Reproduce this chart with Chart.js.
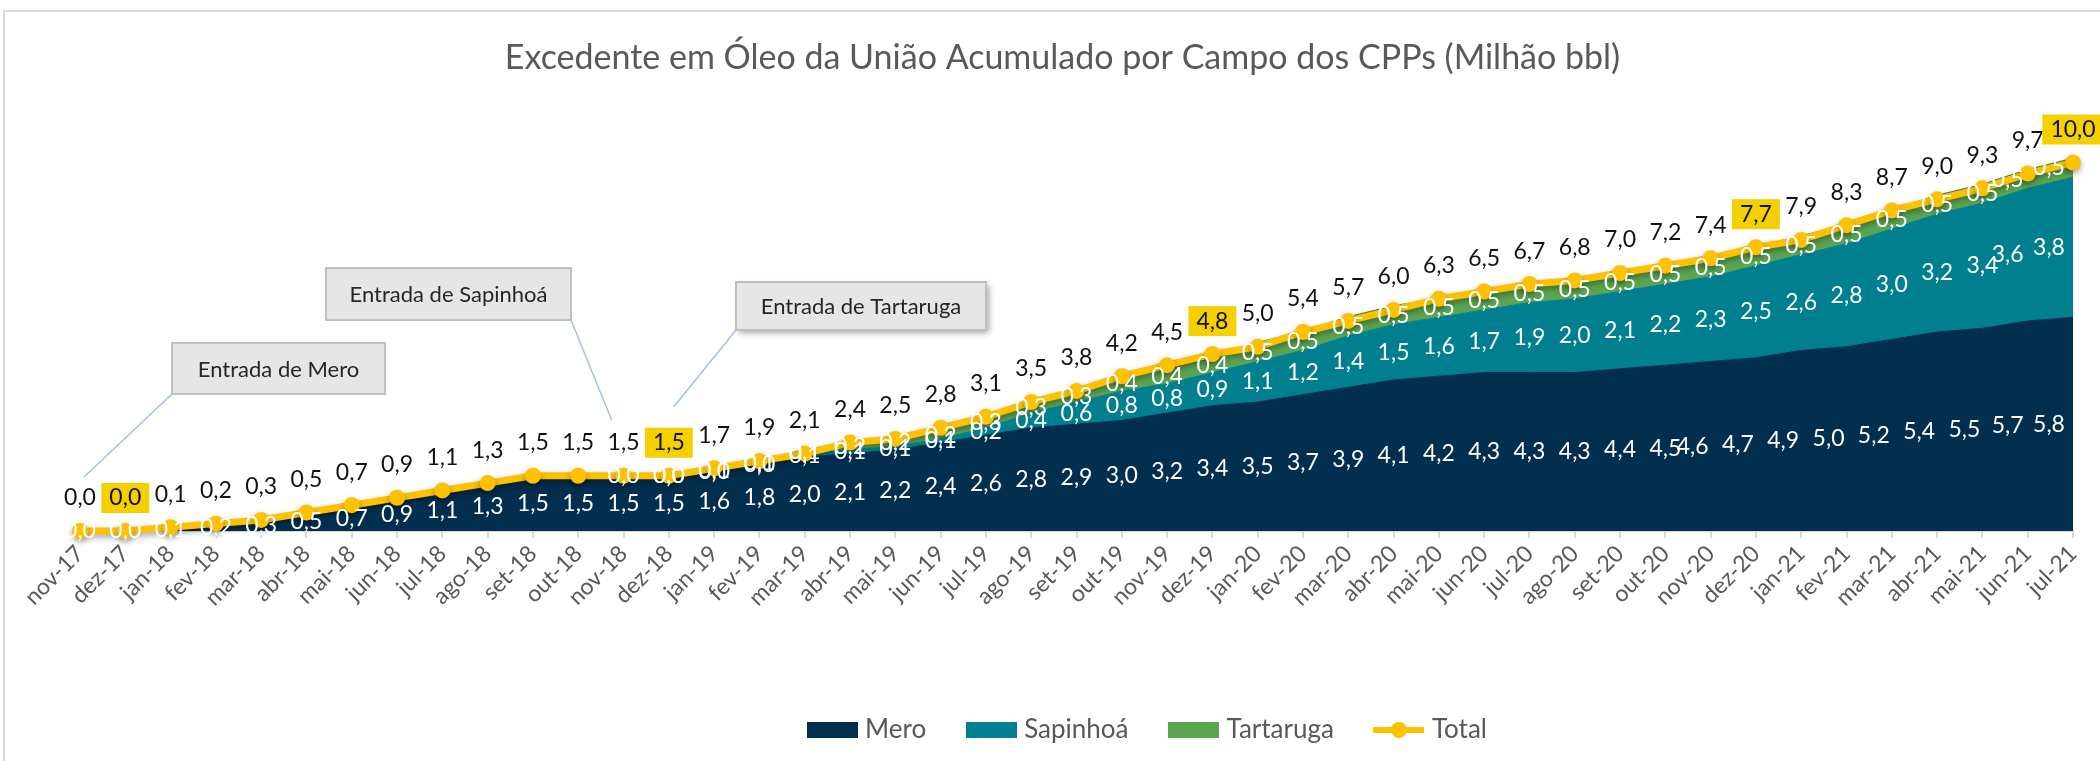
<!DOCTYPE html>
<html lang="pt-BR">
<head>
<meta charset="utf-8">
<title>Excedente em Óleo da União</title>
<script src="https://cdn.jsdelivr.net/npm/chart.js@4.4.1/dist/chart.umd.min.js"></script>
<style>
  html, body { margin: 0; padding: 0; background: #fff; }
  #wrap { width: 2100px; height: 761px; position: relative; }
</style>
</head>
<body>
<div id="wrap"><canvas id="myChart"></canvas></div>
<script>
const months = [
  'nov-17', 'dez-17',
  'jan-18', 'fev-18', 'mar-18', 'abr-18', 'mai-18', 'jun-18', 'jul-18', 'ago-18', 'set-18', 'out-18', 'nov-18', 'dez-18',
  'jan-19', 'fev-19', 'mar-19', 'abr-19', 'mai-19', 'jun-19', 'jul-19', 'ago-19', 'set-19', 'out-19', 'nov-19', 'dez-19',
  'jan-20', 'fev-20', 'mar-20', 'abr-20', 'mai-20', 'jun-20', 'jul-20', 'ago-20', 'set-20', 'out-20', 'nov-20', 'dez-20',
  'jan-21', 'fev-21', 'mar-21', 'abr-21', 'mai-21', 'jun-21', 'jul-21'
];

const mero = [
  0.0, 0.0,
  0.1, 0.2, 0.3, 0.5, 0.7, 0.9, 1.1, 1.3, 1.5, 1.5, 1.5, 1.5,
  1.6, 1.8, 2.0, 2.1, 2.2, 2.4, 2.6, 2.8, 2.9, 3.0, 3.2, 3.4,
  3.5, 3.7, 3.9, 4.1, 4.2, 4.3, 4.3, 4.3, 4.4, 4.5, 4.6, 4.7,
  4.9, 5.0, 5.2, 5.4, 5.5, 5.7, 5.8
];

const sapinhoa = [
  null, null,
  null, null, null, null, null, null, null, null, null, null, 0.0, 0.0,
  0.0, 0.0, 0.1, 0.1, 0.1, 0.1, 0.2, 0.4, 0.6, 0.8, 0.8, 0.9,
  1.1, 1.2, 1.4, 1.5, 1.6, 1.7, 1.9, 2.0, 2.1, 2.2, 2.3, 2.5,
  2.6, 2.8, 3.0, 3.2, 3.4, 3.6, 3.8
];

const tartaruga = [
  null, null,
  null, null, null, null, null, null, null, null, null, null, null, 0.0,
  0.1, 0.1, 0.1, 0.2, 0.2, 0.2, 0.3, 0.3, 0.3, 0.4, 0.4, 0.4,
  0.5, 0.5, 0.5, 0.5, 0.5, 0.5, 0.5, 0.5, 0.5, 0.5, 0.5, 0.5,
  0.5, 0.5, 0.5, 0.5, 0.5, 0.5, 0.5
];

const total = [
  0.0, 0.0,
  0.1, 0.2, 0.3, 0.5, 0.7, 0.9, 1.1, 1.3, 1.5, 1.5, 1.5, 1.5,
  1.7, 1.9, 2.1, 2.4, 2.5, 2.8, 3.1, 3.5, 3.8, 4.2, 4.5, 4.8,
  5.0, 5.4, 5.7, 6.0, 6.3, 6.5, 6.7, 6.8, 7.0, 7.2, 7.4, 7.7,
  7.9, 8.3, 8.7, 9.0, 9.3, 9.7, 10.0
];

// totals shown on a yellow tag
const highlighted = ['dez-17', 'dez-18', 'dez-19', 'dez-20', 'jul-21'];

const callouts = [
  { text: 'Entrada de Mero', month: 'nov-17' },
  { text: 'Entrada de Sapinhoá', month: 'nov-18' },
  { text: 'Entrada de Tartaruga', month: 'dez-18' }
];

const colors = {
  mero: '#022F4F',
  sapinhoa: '#00808F',
  tartaruga: '#5BA552',
  total: '#FFC000',
  tag: '#F5D000',
  text: '#595959'
};

// box rect [x, y, w, h] in px, corner the leader starts from, and leader end offset from the total point
const calloutLayout = [
  { box: [172, 343, 213, 51], corner: 'left', dx: 4, dy: -54 },
  { box: [326, 268, 245, 52], corner: 'right', dx: -12, dy: -56 },
  { box: [736, 282, 250, 48], corner: 'left', dx: 5, dy: -69, shadow: true }
];

Chart.defaults.font.family = 'Lato';

const fmt = v => v.toFixed(1).replace('.', ',');

function legendSwatch(color, isLine) {
  const c = document.createElement('canvas');
  c.width = 51;
  c.height = isLine ? 20 : 16;
  const g = c.getContext('2d');
  g.fillStyle = color;
  if (isLine) {
    g.fillRect(0, 7, 51, 6);
    g.beginPath();
    g.arc(25.5, 10, 8, 0, Math.PI * 2);
    g.fill();
  } else {
    g.fillRect(0, 0, 51, 16);
  }
  return c;
}

// horizontal nudge of the band labels near the right edge, like the original
function labelShift(i, j) {
  const n = months.length;
  if (j === n - 1) return -24;
  if (j === n - 2) return -20;
  if (i === 0 && j >= months.indexOf('nov-20')) return -18;
  return 0;
}

const frame = {
  id: 'frame',
  beforeDraw(chart) {
    const ctx = chart.ctx;
    ctx.save();
    ctx.fillStyle = '#fff';
    ctx.fillRect(0, 0, chart.width, chart.height);
    ctx.strokeStyle = '#D9D9D9';
    ctx.lineWidth = 2;
    ctx.beginPath();
    ctx.moveTo(4, chart.height);
    ctx.lineTo(4, 11);
    ctx.lineTo(chart.width, 11);
    ctx.stroke();
    ctx.restore();
  },
  afterLayout(chart) {
    // legend sits right of centre in the original, title a bit left
    chart.legend.left += 73;
    chart.legend.right += 73;
    chart.titleBlock.left -= 14;
    chart.titleBlock.right -= 14;
  }
};

const lineShadow = {
  id: 'lineShadow',
  beforeDatasetDraw(chart, args) {
    if (args.index !== 3) return;
    const ctx = chart.ctx;
    ctx.save();
    ctx.shadowColor = 'rgba(0,0,0,0.35)';
    ctx.shadowBlur = 6;
    ctx.shadowOffsetY = 3;
  },
  afterDatasetDraw(chart, args) {
    if (args.index === 3) chart.ctx.restore();
  }
};

const dataLabels = {
  id: 'dataLabels',
  afterDatasetsDraw(chart) {
    const ctx = chart.ctx;
    const yScale = chart.scales.y;
    const sets = chart.data.datasets;
    ctx.save();
    ctx.font = '23px Lato';
    ctx.textAlign = 'center';
    ctx.textBaseline = 'middle';

    // stacked fields: label in the middle of its band
    [0, 1, 2].forEach(i => {
      const meta = chart.getDatasetMeta(i);
      sets[i].data.forEach((v, j) => {
        if (v === null) return;
        const top = meta.data[j].y;
        let bottom = yScale.getPixelForValue(0);
        for (let k = i - 1; k >= 0; k--) {
          if (sets[k].data[j] !== null) {
            bottom = chart.getDatasetMeta(k).data[j].y;
            break;
          }
        }
        ctx.fillStyle = '#ffffff';
        ctx.fillText(fmt(v), meta.data[j].x + labelShift(i, j), (top + bottom) / 2);
      });
    });

    // total above the line
    const tm = chart.getDatasetMeta(3);
    sets[3].data.forEach((v, j) => {
      const px = tm.data[j].x;
      const py = tm.data[j].y - 33;
      const txt = fmt(v);
      if (highlighted.includes(months[j])) {
        const w = ctx.measureText(txt).width + 16;
        ctx.fillStyle = colors.tag;
        ctx.fillRect(px - w / 2, py - 15, w, 30);
      }
      ctx.fillStyle = '#111111';
      ctx.fillText(txt, px, py);
    });
    ctx.restore();
  }
};

const calloutPlugin = {
  id: 'callouts',
  afterDraw(chart) {
    const ctx = chart.ctx;
    const tm = chart.getDatasetMeta(3);
    ctx.save();
    callouts.forEach((c, i) => {
      const lay = calloutLayout[i];
      const [bx, by, bw, bh] = lay.box;
      const pt = tm.data[months.indexOf(c.month)];

      ctx.strokeStyle = '#9DC3E6';
      ctx.lineWidth = 1.5;
      ctx.beginPath();
      ctx.moveTo(lay.corner === 'left' ? bx : bx + bw, by + bh);
      ctx.lineTo(pt.x + lay.dx, pt.y + lay.dy);
      ctx.stroke();

      ctx.save();
      if (lay.shadow) {
        ctx.shadowColor = 'rgba(0,0,0,0.35)';
        ctx.shadowBlur = 6;
        ctx.shadowOffsetX = 3;
        ctx.shadowOffsetY = 3;
      }
      ctx.fillStyle = '#E7E6E6';
      ctx.fillRect(bx, by, bw, bh);
      ctx.restore();
      ctx.strokeStyle = '#BFBFBF';
      ctx.lineWidth = 2;
      ctx.strokeRect(bx, by, bw, bh);

      ctx.fillStyle = '#262626';
      ctx.font = '22px Lato';
      ctx.textAlign = 'center';
      ctx.textBaseline = 'middle';
      ctx.fillText(c.text, bx + bw / 2, by + bh / 2 + 1);
    });
    ctx.restore();
  }
};

const areaSet = (label, data, color, fill) => ({
  label: label,
  data: data,
  stack: 'campos',
  fill: fill,
  backgroundColor: color,
  borderColor: color,
  borderWidth: 1,
  pointRadius: 0,
  tension: 0,
  order: 1
});

const data = {
  labels: months,
  datasets: [
    areaSet('Mero', mero, colors.mero, 'origin'),
    areaSet('Sapinhoá', sapinhoa, colors.sapinhoa, '-1'),
    Object.assign(areaSet('Tartaruga', tartaruga, colors.tartaruga, '-1'), { borderColor: '#4A8A3E', borderWidth: 2 }),
    {
      label: 'Total',
      data: total,
      stack: 'total',
      fill: false,
      borderColor: colors.total,
      backgroundColor: colors.total,
      borderWidth: 7,
      pointRadius: 8,
      pointBackgroundColor: colors.total,
      pointBorderWidth: 0,
      tension: 0,
      clip: false,
      order: 0
    }
  ]
};

const swatches = [
  legendSwatch(colors.mero, false),
  legendSwatch(colors.sapinhoa, false),
  legendSwatch(colors.tartaruga, false),
  legendSwatch(colors.total, true)
];

const config = {
  type: 'line',
  data: data,
  plugins: [frame, lineShadow, dataLabels, calloutPlugin],
  options: {
    responsive: true,
    maintainAspectRatio: false,
    animation: false,
    events: [],
    layout: { padding: { left: 80, right: 27, top: 0, bottom: 8 } },
    scales: {
      x: {
        offset: false,
        grid: { drawOnChartArea: false, color: '#D9D9D9', lineWidth: 2, tickLength: 7 },
        border: { color: '#D9D9D9', width: 2 },
        ticks: {
          color: colors.text,
          font: { size: 23 },
          autoSkip: false,
          minRotation: 45,
          maxRotation: 45,
          padding: 2
        },
        afterFit(scale) {
          scale.height = 141;
        }
      },
      y: {
        display: false,
        stacked: true,
        min: 0,
        max: 12
      }
    },
    plugins: {
      title: {
        display: true,
        text: 'Excedente em Óleo da União Acumulado por Campo dos CPPs (Milhão bbl)',
        color: colors.text,
        font: { size: 34, weight: 'normal' },
        padding: { top: 38, bottom: 10 }
      },
      legend: {
        position: 'bottom',
        labels: {
          color: colors.text,
          font: { size: 26 },
          usePointStyle: true,
          pointStyleWidth: 40,
          boxHeight: 16,
          padding: 45,
          generateLabels(chart) {
            return chart.data.datasets.map((ds, i) => ({
              text: ds.label,
              pointStyle: swatches[i],
              fillStyle: ds.backgroundColor,
              strokeStyle: 'transparent',
              lineWidth: 0,
              fontColor: colors.text,
              hidden: false,
              datasetIndex: i
            }));
          }
        }
      },
      tooltip: { enabled: false }
    }
  }
};

const ctx = document.querySelector('#myChart');
const myChart = new Chart(ctx, config);
</script>
</body>
</html>
